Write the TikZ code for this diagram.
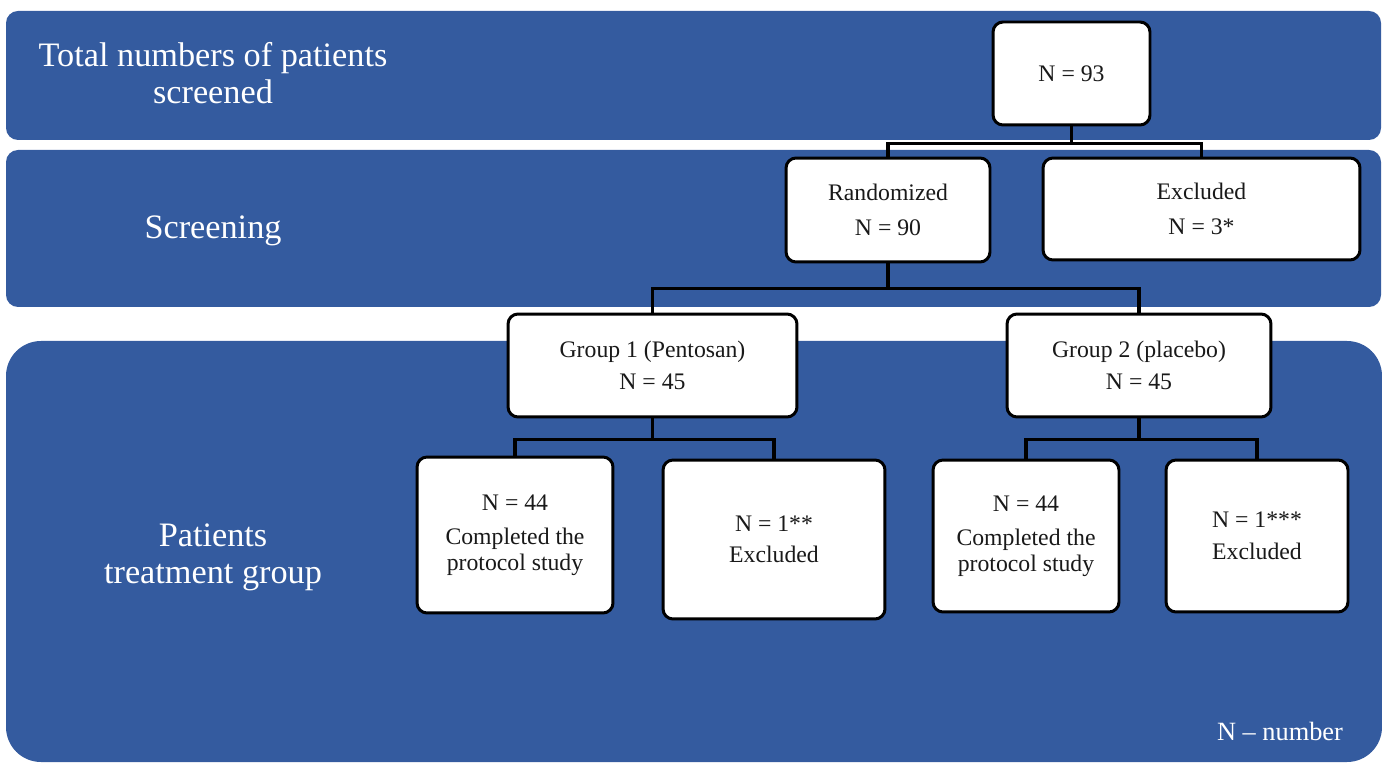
\documentclass[tikz,border=0pt]{standalone}
\usepackage{fontspec}
\setmainfont{Liberation Serif}
\definecolor{panelblue}{RGB}{52,91,159}
\definecolor{boxtext}{RGB}{25,25,25}

\begin{document}
\begin{tikzpicture}[x=0.02cm,y=-0.02cm,
  panel/.style={fill=panelblue},
  box/.style={draw=black, fill=white, rounded corners=0.2cm, line width=1.7pt,
    align=center, inner sep=0pt, text=boxtext, font=\fontsize{13.5}{20}\selectfont},
  title/.style={text=white, align=center, font=\fontsize{19.5}{21}\selectfont},
  link/.style={draw=black, line width=1.8pt}]
\useasboundingbox (0,0) rectangle (1382,763);

% background bands
\path[panel, rounded corners=0.24cm] (6,11) rectangle (1381,140);
\path[panel, rounded corners=0.24cm] (6,150) rectangle (1381,307);
\path[panel, rounded corners=0.7cm] (6,341) rectangle (1382,762);

\node[title] (t1) at (213,73) {Total numbers of patients\\screened};
\node[title] (t2) at (213,231) {Screening};
\node[title] (t3) at (213,557) {Patients\\treatment group};
\node[text=white, font=\fontsize{15}{17}\selectfont] (key) at (1280,731) {N -- number};

% boxes
\node[box, minimum width=3.14cm, minimum height=2.06cm] (n93) at (1071.5,73.5) {N = 93};
\node[box, minimum width=4.08cm, minimum height=2.08cm] (rand) at (888,210) {Randomized\\N = 90};
\node[box, minimum width=6.34cm, minimum height=2.04cm] (excl) at (1201.5,209) {Excluded\\N = 3*};
\node[box, minimum width=5.78cm, minimum height=2.06cm, font=\fontsize{13.5}{18}\selectfont] (grp1) at (652.5,365.5) {Group 1 (Pentosan)\\N = 45};
\node[box, minimum width=5.28cm, minimum height=2.06cm, font=\fontsize{13.5}{18}\selectfont] (grp2) at (1139,365.5) {Group 2 (placebo)\\N = 45};
\node[box, minimum width=3.92cm, minimum height=3.12cm, font=\fontsize{13.5}{14.5}\selectfont] (comp1) at (515,535) {N = 44\\[5pt]Completed the\\protocol study};
\node[box, minimum width=4.44cm, minimum height=3.18cm, font=\fontsize{13.5}{17.5}\selectfont] (exc1) at (774,539.5) {N = 1**\\Excluded};
\node[box, minimum width=3.72cm, minimum height=3.04cm, font=\fontsize{13.5}{14.5}\selectfont] (comp2) at (1026,536) {N = 44\\[5pt]Completed the\\protocol study};
\node[box, minimum width=3.64cm, minimum height=3.04cm, font=\fontsize{13.5}{18.5}\selectfont] (exc2) at (1257,536) {N = 1***\\Excluded};

% connectors
\path[link] (n93.south) -- ++(0,17) -| (rand.north);
\path[link] (n93.south) -- ++(0,17) -| (excl.north);
\path[link] (rand.south) -- ++(0,25) -| (grp1.north);
\path[link] (rand.south) -- ++(0,25) -| (grp2.north);
\path[link] (grp1.south) -- ++(0,21) -| (comp1.north);
\path[link] (grp1.south) -- ++(0,21) -| (exc1.north);
\path[link] (grp2.south) -- ++(0,21) -| (comp2.north);
\path[link] (grp2.south) -- ++(0,21) -| (exc2.north);
\end{tikzpicture}
\end{document}
